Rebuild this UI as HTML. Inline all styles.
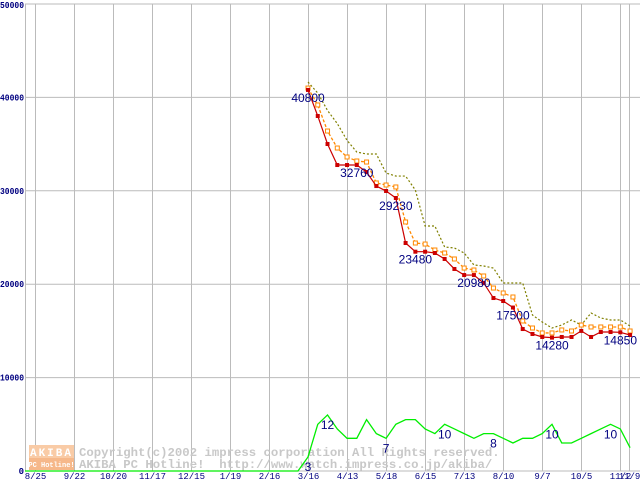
<!DOCTYPE html>
<html><head><meta charset="utf-8"><style>
body{margin:0;background:#fff;}
svg{display:block;font-family:"Liberation Mono",monospace;}
</style></head><body>
<svg id="chart" width="640" height="480" viewBox="0 0 640 480" xmlns="http://www.w3.org/2000/svg"></svg>
<script>
const yTicks=[0,10000,20000,30000,40000,50000];
const xTickLabels=["8/25","9/22","10/20","11/17","12/15","1/19","2/16","3/16","4/13","5/18","6/15","7/13","8/10","9/7","10/5","11/2","11/9"];
const minPrice=[40800,38010,35010,32760,32760,32760,32010,30510,29980,29230,24410,23480,23480,23340,22700,21630,20980,20980,20130,18520,18200,17500,15200,14670,14350,14280,14350,14350,15000,14350,14880,14880,14850,14560];
const avgPrice=[41000,39190,36400,34580,33620,33190,33080,30840,30620,30410,26660,24410,24300,23660,23340,22700,21730,21520,20880,19590,19060,18630,16060,15310,14780,14780,15100,14990,15630,15420,15420,15420,15420,14990];
const maxPrice=[41650,40470,38600,37200,35400,34150,33940,33940,31900,31580,31580,30080,26230,26230,23980,23880,23340,22060,21950,21730,20130,20130,20130,16700,15950,15310,15630,16170,15630,16920,16380,16170,16170,15520];
const shopCount=[3,10,12,9,7,7,11,8,7,10,11,11,9,8,10,9,8,7,8,8,7,6,7,7,8,10,6,6,7,8,9,10,9,5];
const priceLabelIdx=[0,5,9,11,17,21,25,32];
const priceLabelText=["40800","32760","29230","23480","20980","17500","14280","14850"];
const countLabelIdx=[0,2,8,14,19,25,31];

const svg=document.getElementById('chart');
const NS='http://www.w3.org/2000/svg';
function yScale(v){return 471-v*(467/50000);}
function xScale(i){return 308+i*9.76;}
function gridX(k){return k<16?35+k*39:629;}
function mk(tag,attrs){const e=document.createElementNS(NS,tag);for(const k in attrs)e.setAttribute(k,attrs[k]);svg.appendChild(e);return e;}

yTicks.forEach(v=>{
  const l=mk('line',{x1:25,x2:640,y1:yScale(v),y2:yScale(v),stroke:'#bbbbbb','stroke-width':1});
  
  
  const s=String(v);
  const ty=Math.max(yScale(v)+3,8);
  const attrs={x:24,y:ty,'text-anchor':'end','font-size':9,'font-weight':'bold',fill:'#000080'};
  if(s.length>1){attrs.x=0;attrs['text-anchor']='start';attrs.textLength=24;attrs.lengthAdjust='spacingAndGlyphs';}
  const t=mk('text',attrs);
  t.textContent=s;
  
  
});
const lv=mk('line',{x1:25.5,x2:25.5,y1:4,y2:471,stroke:'#bbbbbb'});


xTickLabels.forEach((s,k)=>{
  const x=gridX(k)+0.5;
  const l=mk('line',{x1:x,x2:x,y1:4,y2:471,stroke:'#bbbbbb'});
  
  
  const t=mk('text',{x:x,y:479,'text-anchor':'middle','font-size':9,fill:'#000080'});
  t.textContent=s;
  
  
});

const g1=mk('rect',{x:29,y:445,width:45,height:13,fill:'#f9cba6'});


const g2=mk('rect',{x:29,y:458,width:45,height:12,fill:'#f6b88a'});


const lt1=mk('text',{x:51.5,y:456,'text-anchor':'middle','font-size':11,'font-weight':'bold',fill:'#fff','letter-spacing':2});
lt1.textContent='AKIBA';


const lt2=mk('text',{x:51.5,y:467,'text-anchor':'middle','font-size':7,'font-weight':'bold',fill:'#fff'});
lt2.textContent='PC Hotline!';


const w1=mk('text',{x:79,y:456,'font-size':12.3,'font-weight':'bold',fill:'#c8c8c8',style:'white-space:pre'});
w1.textContent='Copyright(c)2002 impress corporation All Rights reserved.';


const w2=mk('text',{x:79,y:468,'font-size':12.3,'font-weight':'bold',fill:'#c8c8c8',style:'white-space:pre'});
w2.textContent='AKIBA PC Hotline!  http://www.watch.impress.co.jp/akiba/';



function pts(arr){return arr.map((v,i)=>xScale(i)+','+yScale(v)).join(' ');}
const gp='25,'+yScale(0)+' 298,'+yScale(0)+' '+shopCount.map((c,i)=>xScale(i)+','+yScale(c*500)).join(' ');
const gl=mk('polyline',{points:gp,fill:'none',stroke:'#00ee00','stroke-width':1.3});



const mx=mk('polyline',{points:pts(maxPrice),fill:'none',stroke:'#808000','stroke-width':1.2,'stroke-dasharray':'2,2'});


const av=mk('polyline',{points:pts(avgPrice),fill:'none',stroke:'#ff8800','stroke-width':1.3,'stroke-dasharray':'3,2'});


avgPrice.forEach((v,i)=>{
  const r=mk('rect',{x:xScale(i)-2,y:yScale(v)-2,width:4,height:4,fill:'#fff',stroke:'#ff8800','stroke-width':1});
  
  
});
const mn=mk('polyline',{points:pts(minPrice),fill:'none',stroke:'#cc0000','stroke-width':1.2});


minPrice.forEach((v,i)=>{
  const r=mk('rect',{x:xScale(i)-2,y:yScale(v)-2,width:4,height:4,fill:'#cc0000'});
  
  
});
priceLabelIdx.forEach((idx,k)=>{
  const t=mk('text',{x:xScale(idx),y:yScale(minPrice[idx])+12,'text-anchor':'middle','font-size':12,fill:'#000080','font-family':'Liberation Sans, sans-serif'});
  t.textContent=priceLabelText[k];
  
  
});
countLabelIdx.forEach(idx=>{
  const t=mk('text',{x:xScale(idx),y:yScale(shopCount[idx]*500)+14,'text-anchor':'middle','font-size':12,fill:'#000080','font-family':'Liberation Sans, sans-serif'});
  t.textContent=String(shopCount[idx]);
  
  
});
</script>
</body></html>
